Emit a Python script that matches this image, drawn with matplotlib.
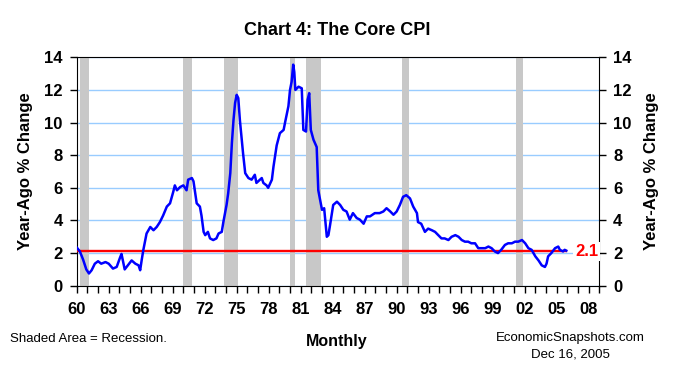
import matplotlib
matplotlib.use("Agg")
import matplotlib.pyplot as plt

plt.rcParams['font.family'] = ['Liberation Sans', 'DejaVu Sans']

# Core CPI, year-ago % change (roughly quarterly)
years = [1960.0, 1960.3, 1960.6, 1960.9, 1961.15, 1961.4, 1961.7, 1962.0, 1962.3, 1962.7,
         1963.0, 1963.4, 1963.75, 1964.05, 1964.2, 1964.5, 1964.8, 1965.15, 1965.5, 1965.8,
         1965.95, 1966.1, 1966.25, 1966.55, 1966.9, 1967.2, 1967.5, 1967.8, 1968.1, 1968.45,
         1968.75, 1969.05, 1969.2, 1969.4, 1969.7, 1970.0, 1970.3, 1970.45, 1970.8, 1970.95,
         1971.25, 1971.55, 1971.7, 1971.9, 1972.05, 1972.3, 1972.5, 1972.8, 1973.1, 1973.3,
         1973.6, 1973.75, 1974.05, 1974.2, 1974.4, 1974.55, 1974.7, 1974.85, 1975.0, 1975.15,
         1975.3, 1975.6, 1975.8, 1976.1, 1976.4, 1976.7, 1976.85, 1977.35, 1977.5, 1977.8,
         1977.95, 1978.3, 1978.45, 1978.75, 1979.05, 1979.4, 1979.55, 1979.85, 1980.0, 1980.15,
         1980.3, 1980.4, 1980.5, 1980.8, 1981.1, 1981.25, 1981.5, 1981.65, 1981.8, 1981.95,
         1982.2, 1982.5, 1982.65, 1983.0, 1983.2, 1983.45, 1983.6, 1983.75, 1984.05, 1984.4,
         1984.7, 1985.0, 1985.3, 1985.6, 1985.9, 1986.25, 1986.55, 1986.9, 1987.2, 1987.5,
         1987.95, 1988.4, 1988.75, 1989.05, 1989.4, 1989.7, 1990.0, 1990.3, 1990.6, 1990.9,
         1991.25, 1991.55, 1991.9, 1992.0, 1992.3, 1992.65, 1992.95, 1993.3, 1993.6, 1993.9,
         1994.2, 1994.5, 1994.85, 1995.15, 1995.5, 1995.8, 1996.1, 1996.4, 1996.7, 1997.0,
         1997.35, 1997.65, 1997.95, 1998.3, 1998.6, 1998.9, 1999.2, 1999.5, 1999.8, 2000.15,
         2000.45, 2000.8, 2001.1, 2001.4, 2001.75, 2002.05, 2002.35, 2002.65, 2003.0, 2003.3,
         2003.6, 2003.9, 2004.05, 2004.2, 2004.5, 2004.85, 2005.15, 2005.3, 2005.6, 2005.75,
         2005.9]
core = [2.35, 2.1, 1.6, 1.0, 0.75, 0.95, 1.35, 1.5, 1.35, 1.45,
        1.35, 1.05, 1.15, 1.7, 1.95, 1.0, 1.25, 1.55, 1.35, 1.25,
        0.95, 1.6, 2.2, 3.2, 3.6, 3.4, 3.6, 3.9, 4.3, 4.85,
        5.05, 5.75, 6.15, 5.85, 6.05, 6.15, 5.85, 6.5, 6.6, 6.4,
        5.05, 4.85, 4.3, 3.3, 3.1, 3.3, 2.9, 2.8, 2.9, 3.2,
        3.3, 3.9, 4.95, 5.65, 6.9, 8.75, 10.15, 11.2, 11.7, 11.5,
        10.15, 8.1, 6.9, 6.6, 6.5, 6.8, 6.3, 6.6, 6.3, 6.15,
        6.0, 6.5, 7.3, 8.6, 9.35, 9.55, 10.05, 11.0, 12.0, 12.5,
        13.55, 13.1, 12.0, 12.2, 12.1, 9.55, 9.45, 11.4, 11.8, 9.55,
        8.95, 8.5, 5.85, 4.65, 4.75, 3.0, 3.1, 3.7, 4.95, 5.15,
        4.95, 4.65, 4.55, 4.05, 4.45, 4.15, 4.05, 3.8, 4.25, 4.25,
        4.45, 4.45, 4.55, 4.75, 4.55, 4.35, 4.55, 4.95, 5.45, 5.55,
        5.35, 4.85, 4.45, 3.9, 3.8, 3.3, 3.5, 3.4, 3.3, 3.1,
        2.9, 2.9, 2.8, 3.0, 3.1, 3.0, 2.8, 2.7, 2.7, 2.6,
        2.6, 2.3, 2.3, 2.3, 2.4, 2.3, 2.1, 2.0, 2.2, 2.5,
        2.6, 2.6, 2.7, 2.7, 2.8, 2.6, 2.3, 2.2, 1.8, 1.55,
        1.25, 1.15, 1.35, 1.8, 2.0, 2.3, 2.4, 2.2, 2.1, 2.2,
        2.15]

latest = 2.1
recessions = [(1960.33, 1961.13), (1969.92, 1970.83), (1973.83, 1975.17), (1980.0, 1980.5),
              (1981.5, 1982.88), (1990.5, 1991.17), (2001.17, 2001.88)]
tick_years = list(range(1960, 2009, 3))
tick_labels = ['60', '63', '66', '69', '72', '75', '78', '81', '84', '87', '90', '93',
               '96', '99', '02', '05', '08']

fig = plt.figure(figsize=(6.74, 3.70), dpi=100)
ax = fig.add_axes([0.1138, 0.2278, 0.7754, 0.6173])

for start, end in recessions:
    ax.axvspan(start, end, color='#c8c8c8', lw=0, zorder=1)

ax.plot(years, core, color='#0000ff', lw=1.8, zorder=4)
ax.plot([years[0], years[-1]], [latest, latest], color='#ff0000', lw=1.7, zorder=3)

ax.text(2007.8, latest, '2.1', color='#ff0000', fontsize=12, fontweight='bold',
        ha='center', va='center', zorder=10, clip_on=False,
        bbox=dict(facecolor='white', edgecolor='none', pad=1.5))

ax.set_xlim(1960, 2009)
ax.set_ylim(0, 14)
ax.set_yticks(range(0, 15, 2))
ax.set_xticks(tick_years)
ax.set_xticklabels(tick_labels)
ax.set_xticks(range(1960, 2010), minor=True)
ax.yaxis.grid(True, color='#99ccff', lw=1, zorder=0)
ax.set_axisbelow(True)

ax.tick_params(axis='x', which='both', direction='out', length=5, width=1, pad=7,
               labelsize=12)
ax.tick_params(axis='y', direction='out', length=5, width=1, pad=5, labelsize=12,
               left=True, right=True, labelleft=True, labelright=True)
for lab in ax.get_xticklabels() + ax.get_yticklabels():
    lab.set_fontweight('bold')
for lab in ax.yaxis.get_ticklabels(which='major'):
    lab.set_fontweight('bold')
for t in ax.yaxis.get_major_ticks():
    t.label2.set_fontweight('bold')

ax.set_ylabel('Year-Ago % Change', fontsize=12, fontweight='bold', labelpad=8)
fig.text(0.967, 0.5364, 'Year-Ago % Change', fontsize=12, fontweight='bold',
         rotation=90, ha='center', va='center')

fig.text(0.5, 0.917, 'Chart 4: The Core CPI', fontsize=13, fontweight='bold',
         ha='center', va='center')
fig.text(0.5, 0.078, 'Monthly', fontsize=11.5, fontweight='bold', ha='center', va='center')
fig.text(0.015, 0.084, 'Shaded Area = Recession.', fontsize=9.5, ha='left', va='center')
fig.text(0.846, 0.086, 'EconomicSnapshots.com', fontsize=9.5, ha='center', va='center')
fig.text(0.846, 0.041, 'Dec 16, 2005', fontsize=9.5, ha='center', va='center')

fig.savefig('out.png', dpi=100)
